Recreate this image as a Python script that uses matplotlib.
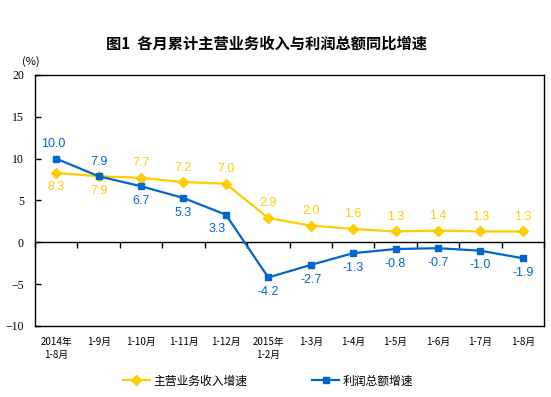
import numpy as np
import matplotlib
matplotlib.use("Agg")
import matplotlib.pyplot as plt

plt.rcParams['font.family'] = ['Liberation Sans', 'Noto Sans CJK SC']

categories = ['2014年\n1-8月', '1-9月', '1-10月', '1-11月', '1-12月', '2015年\n1-2月',
              '1-3月', '1-4月', '1-5月', '1-6月', '1-7月', '1-8月']
revenue = [8.3, 7.9, 7.7, 7.2, 7.0, 2.9, 2.0, 1.6, 1.3, 1.4, 1.3, 1.3]
profit = [10.0, 7.9, 6.7, 5.3, 3.3, -4.2, -2.7, -1.3, -0.8, -0.7, -1.0, -1.9]
# label above (+1) or below (-1) the point
revenue_pos = [-1, -1, 1, 1, 1, 1, 1, 1, 1, 1, 1, 1]
profit_pos = [1, 1, -1, -1, -1, -1, -1, -1, -1, -1, -1, -1]

YELLOW = '#FFCC00'
BLUE = '#0066CC'

fig = plt.figure(figsize=(5.51, 3.97), dpi=100)
ax = fig.add_axes([35 / 551, 71 / 397, 509 / 551, 251 / 397])

x = np.arange(len(categories))
ax.plot(x, revenue, color=YELLOW, lw=1.6, marker='D', ms=5.5, label='主营业务收入增速')
ax.plot(x, profit, color=BLUE, lw=1.6, marker='s', ms=4.5, label='利润总额增速')

for i, (xi, v, p) in enumerate(zip(x, revenue, revenue_pos)):
    ax.annotate(f'{v:.1f}', (xi, v), xytext=(0, 10.5 * p), textcoords='offset points',
                ha='center', va='center', color=YELLOW, fontsize=9)
for i, (xi, v, p) in enumerate(zip(x, profit, profit_pos)):
    dx = -6 if i == 4 else (-2 if i == 0 else 0)
    ax.annotate(f'{v:.1f}', (xi, v), xytext=(dx, 10.5 * p), textcoords='offset points',
                ha='center', va='center', color=BLUE, fontsize=9)

ax.set_xlim(-0.5, len(categories) - 0.5)
ax.set_ylim(-10, 20)
ax.set_yticks([-10, -5, 0, 5, 10, 15, 20])
ax.tick_params(axis='y', direction='in', length=4, width=1, labelsize=8.5, pad=8)
for lab in ax.get_yticklabels():
    lab.set_family('Liberation Serif')

ax.set_xticks(x)
ax.set_xticklabels(categories, fontsize=7, family='Noto Sans CJK SC', linespacing=1.3)
ax.tick_params(axis='x', length=0, pad=8)

for s in ax.spines.values():
    s.set_linewidth(1)

# zero line with tick marks between categories
sec = ax.secondary_xaxis(1 / 3)
sec.set_xticks(np.arange(len(categories) + 1) - 0.5)
sec.set_xticklabels([])
sec.tick_params(direction='out', length=4, width=1)
sec.spines['bottom'].set_linewidth(1)

fig.text(22 / 551, 1 - 62 / 397, '(%)', fontsize=8, family='Noto Sans CJK SC', va='center')
fig.text(266 / 551, 1 - 44 / 397, '图1  各月累计主营业务收入与利润总额同比增速', ha='center', va='center',
         fontsize=11, fontweight='bold', family='Noto Sans CJK SC')

fig.legend(loc='center', bbox_to_anchor=(268 / 551, 1 - 381 / 397), ncol=2, frameon=False,
           prop={'family': 'Noto Sans CJK SC', 'size': 8.5}, handlelength=2.3,
           handletextpad=0.3, columnspacing=5.5)

fig.savefig('out.png', dpi=100, facecolor='white')
